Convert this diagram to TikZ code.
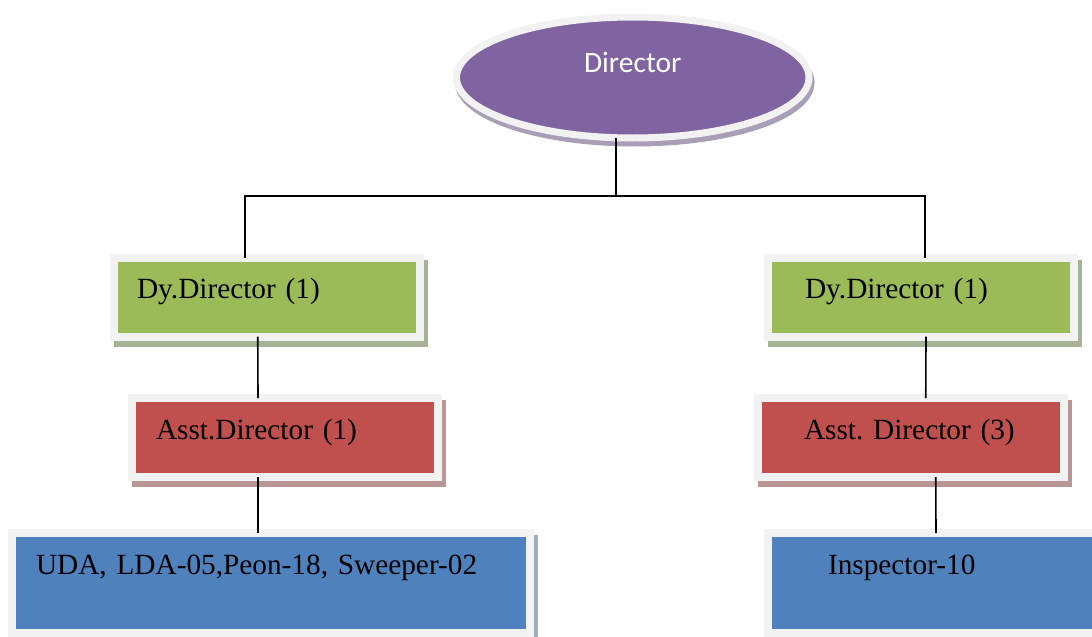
\documentclass[tikz,border=0pt]{standalone}
\usepackage{fontspec}
\setmainfont{Liberation Serif}
\newfontfamily\dirfont{Carlito}
\usepackage{tikz}
\usetikzlibrary{shapes.geometric,positioning,shadows}
\usepackage{xcolor}
\definecolor{orgpurple}{RGB}{128,100,162}
\definecolor{orggreen}{RGB}{155,187,89}
\definecolor{orgred}{RGB}{192,80,77}
\definecolor{orgblue}{RGB}{79,129,189}
\definecolor{orgrim}{RGB}{242,242,242}
\definecolor{shpurple}{RGB}{168,158,182}
\definecolor{shgreen}{RGB}{168,178,150}
\definecolor{shred}{RGB}{185,150,150}
\definecolor{shblue}{RGB}{160,172,192}
\tikzstyle{link} = [line width=1.6pt, color=black]
\tikzstyle{headnode} = [ellipse, draw=orgrim, fill=orgpurple, line width=7pt, inner sep=0pt, outer sep=0pt, minimum width=352.5pt, minimum height=121pt, text=white, text height=19pt, text depth=30pt, font=\dirfont\fontsize{29.5}{34}\selectfont, drop shadow={shadow xshift=2pt, shadow yshift=-5pt, opacity=1, fill=shpurple, draw=shpurple, line width=7pt}]
\tikzstyle{unitbox} = [rectangle, draw=orgrim, line width=8pt, inner sep=0pt, outer sep=0pt, align=left, minimum height=79pt, text height=41pt, text depth=38pt, font=\fontsize{29.3}{34}\selectfont\frenchspacing]

\begin{document}
\begin{tikzpicture}
\clip (0,0) rectangle (1092pt,-637pt);
% Offices as nodes
\node (dir) [headnode] at (632.75pt,-77.5pt) {Director};

\node (dy1) [unitbox, below of=dir, node distance=219.5pt, xshift=-366pt, minimum width=305.5pt, text width=259.5pt, fill=orggreen,
  drop shadow={shadow xshift=4pt, shadow yshift=-6pt, opacity=1, fill=shgreen, draw=shgreen, line width=8pt}] {Dy.Director (1)};

\node (dy2) [unitbox, right of=dy1, node distance=654.25pt, minimum width=306pt, text width=232pt, fill=orggreen,
  drop shadow={shadow xshift=4pt, shadow yshift=-6pt, opacity=1, fill=shgreen, draw=shgreen, line width=8pt}] {Dy.Director (1)};

\node (ad1) [unitbox, below of=dy1, node distance=140.5pt, xshift=18.25pt, minimum width=306pt, text width=258pt, fill=orgred,
  drop shadow={shadow xshift=4pt, shadow yshift=-6pt, opacity=1, fill=shred, draw=shred, line width=8pt}] {Asst.Director (1)};

\node (ad2) [unitbox, right of=ad1, node distance=625.75pt, minimum width=305.5pt, text width=213.5pt, fill=orgred,
  drop shadow={shadow xshift=4pt, shadow yshift=-6pt, opacity=1, fill=shred, draw=shred, line width=8pt}] {Asst. Director (3)};

\node (st1) [unitbox, below of=ad1, node distance=145.5pt, xshift=-14pt, minimum width=518pt, minimum height=100pt, text depth=59pt, text width=470pt, fill=orgblue,
  drop shadow={shadow xshift=4pt, shadow yshift=-6pt, opacity=1, fill=shblue, draw=shblue, line width=8pt}] {UDA, LDA-05,Peon-18, Sweeper-02};

\node (st2) [unitbox, right of=st1, node distance=756pt, minimum width=518pt, minimum height=100pt, text depth=59pt, text width=398pt, fill=orgblue,
  drop shadow={shadow xshift=4pt, shadow yshift=-6pt, opacity=1, fill=shblue, draw=shblue, line width=8pt}] {Inspector-10};

% Lines
\draw[link] ([xshift=-17pt]dir.south) -- ++(0,-58pt) -| ([xshift=-22pt]dy1.north);
\draw[link] ([xshift=-17pt]dir.south) -- ++(0,-58pt) -| ([xshift=4pt]dy2.north);
\draw[link] ([xshift=-9pt]dy1.south) -- ([xshift=-27pt]ad1.north);
\draw[link] ([xshift=5pt]dy2.south) -- ([xshift=15pt]ad2.north);
\draw[link] ([xshift=-27pt]ad1.south) -- ([xshift=-13pt]st1.north);
\draw[link] ([xshift=25pt]ad2.south) -- ([xshift=-91pt]st2.north);
\end{tikzpicture}
\end{document}
